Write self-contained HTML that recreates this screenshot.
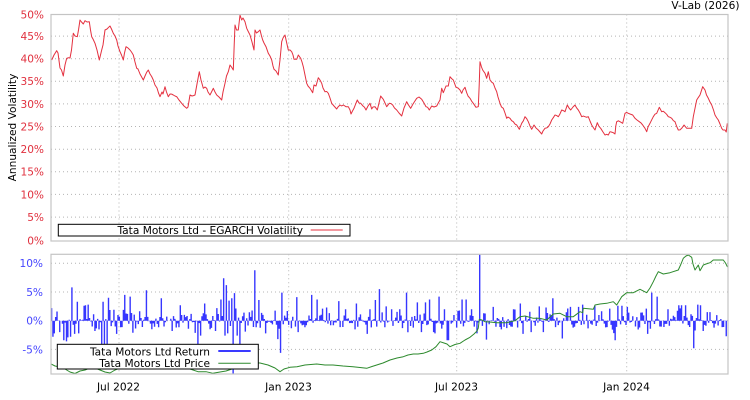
<!DOCTYPE html>
<html><head><meta charset="utf-8"><style>
html,body{margin:0;padding:0;background:#fff;}
svg{display:block;}
text{font-family:"DejaVu Sans","Liberation Sans",sans-serif;font-size:10.6px;}
</style></head><body>
<svg width="750" height="400" viewBox="0 0 750 400" xmlns="http://www.w3.org/2000/svg">
<defs>
<clipPath id="c1"><rect x="51" y="14.5" width="677" height="226.5"/></clipPath>
<clipPath id="c2"><rect x="51" y="254.3" width="677" height="119.7"/></clipPath>
</defs>
<rect x="0" y="0" width="750" height="400" fill="#fff"/>

<!-- grid -->
<g stroke="#b4b4b4" stroke-width="1" stroke-dasharray="1,3" fill="none">
<path d="M51 36.1H728M51 58.7H728M51 81.3H728M51 103.9H728M51 126.5H728M51 149.2H728M51 171.8H728M51 194.4H728M51 217.1H728"/>
<path d="M119 14.5V241M288.7 14.5V241M456.7 14.5V241M626.7 14.5V241"/>
<path d="M51 263.3H728M51 292H728M51 320.7H728M51 349.4H728"/>
<path d="M119 254.3V374M288.7 254.3V374M456.7 254.3V374M626.7 254.3V374"/>
</g>

<!-- volatility -->
<g clip-path="url(#c1)">
<polyline id="vol" fill="none" stroke="#e4303f" stroke-width="1" stroke-linejoin="round" points="51.7,60 54,55 56.7,50.7 58,53 60,68 61.5,70 63.3,76 65,65 66.7,58.3 70,58 71.5,50 73.3,33.3 75,36 77.3,36.7 78.5,30 80,20 81.5,22 83.3,24 85,20.7 87,22 89.3,21.7 90.5,30 91.7,36.7 93,39 95,43.3 97,50 99.3,60 100.5,55 101.7,50 103,45 105,30 107,29 110,26 111.5,29 113.3,33.3 115,36 116.7,40 118,46 120,51.7 121.5,55 123.3,60 124.5,53 126,46.7 128,48 130,50 131.5,52 133.3,55 135,62 136.7,68.3 138,69 140,74 143.3,80 145,76 148.3,70 150,74 153.3,80 155,85 157,88 158.5,93 160,96.7 162,92 163,94 165,86.7 166.5,92 168.3,96.7 170,94 173.3,95 175,96 176.7,96.7 179,100 181.7,103.3 184,106 186.7,108.3 188,107 190,95 192,96 195,95 197,84 199.3,71.7 201,80 203.3,88.3 205,87 206.7,88.3 208,92 210,95 212,91 213.3,88.3 215,92 216.7,95 219,97 221.7,100 223,92 225,83.3 226.5,76 228.3,71.7 230,65 231.5,67 233.3,70 234.2,45 235,25 236.5,30 238.3,30 240,15 241.7,20 243,18 245,21.7 246.7,28.3 248,31 250,35 252,42 254,50 255,30 256.5,33 258.3,31.7 260,30 261.5,36 262.7,40 264,43 266,46.7 268.3,53.3 270,56 271.7,60 273,66 274,69.3 276,71 278.3,75 279,68 280,60 281.7,41.7 283,38 285,35 286.5,42 288.3,50 290,50 291.7,51.7 293,55 294,59.3 296.7,59.3 298.3,55 300.7,58.3 302,62 303.3,66.7 305,75 306.7,83.3 308,86 310,88.3 312.7,92.7 314,85 316,86 318.3,77.7 320,80 321.7,83.3 323,88 325,91.7 328.3,93.3 330,98 331.7,103.3 334,106 336.7,109 338,107 340,105 343.3,105 346,106.7 348.3,106.7 350,110 351,114 352.5,111 354,108.3 357.3,100 359,103 360.7,103.3 363,106 366,110 368,106 370,103.3 371.7,109 373,107 375,106.7 377.3,110 379,103 380.7,96 383.3,99.3 385,103 386.7,106.7 389.3,103.3 392.7,105 394.5,108 396.7,110 399,113 401.7,116 404,108 406.7,101.7 408.5,105 410.7,108.3 413,104 416.7,98.3 419,97 421.7,99.3 424,103 426,106.7 429.3,110 431.7,106 434,107 436.7,106 440,100 441.7,88.3 443.3,92.7 446,86 448.3,86 450,76.7 453.3,80 456,87.3 458,88 460,90 461.7,93.3 463,90 465,87.3 466.7,92.7 468,96 470,98.3 473.3,103.3 476,107.3 478.3,106.7 479.2,85 480,61.7 481.5,67 482.7,70 485,73.3 486.7,78.3 488.3,71.7 490,80 491.5,82 493.3,83.3 495,88 496.7,91.7 498,97 500,103.3 501.5,107 503.3,108.3 505,113 506.7,118.3 508,117 510,118.3 513.3,121.7 516.7,125 519.3,129.3 521.7,123.3 525,116.7 528.3,121.7 530,126 531.7,129.3 534,125 536,128 538.3,130 540,132 541.7,134 543,131 545,128.3 548.3,126.7 550,124 551.7,120 555,115 558.3,116.7 561.7,110 565,111.7 567.3,105 569,108 570.7,110 573,107 575,105 578.3,110 580,113 581.7,116.7 585,116.7 588.3,116.7 590,121 591.7,125 595,130 597.3,122.7 600.7,128.3 603,132 605,135 608.3,135 610,131.7 613.3,132.7 615,134 615.8,126 616.7,121.7 620,121.7 622.7,123.3 625,113.3 628.3,113.3 630,114 632.7,115 635,118.3 637,120 639.3,121.7 642.7,125 645,128.3 646.7,131.7 648,127 650,123.3 653.3,116.7 656.7,113.3 659.3,107.3 661.7,111.7 665,112.7 668.3,116.7 671.7,118.3 675,121.7 676.5,126 678.3,130 681.7,128.3 684,125 686.7,128.3 689.3,128.3 691.7,128.3 693.3,116.7 695,108.3 696.7,100 700,95 702.7,86.7 705,90 706.5,95 708.3,98.3 710,102 711.7,105 713.5,110 715,115 718.3,120 720,124 721.7,128.3 723,130 725,130 726.2,132 727.3,123.3"/>
</g>

<!-- returns + price -->
<g clip-path="url(#c2)">
<path id="bars" fill="none" stroke="#3636ff" stroke-width="1.4" d=""/>
<polyline fill="none" stroke="#2d8a2d" stroke-width="1" stroke-linejoin="round" points="51,364 55,366 60,367 65,369 70,372 75,373.5 80,371 85,370 90,368 95,368 100,370 105,372 110,373 115,370 120,368 130,366 140,366 150,367 160,366 170,367 180,368 190,369 198,371.7 206,371.7 213,373.3 220,372 226,371 232,369 240,366 248,363 253,362.7 260,363 268,365 275,368 280,371.7 284,369 290,367.3 297,366.7 305,365 316.7,364 325,365 333,365 343,366 353,366.7 360,367.5 366.7,368.3 372,366.5 376.7,365 383,363 390,360 397,358 403.3,356.7 408,355 413.3,354 418,354 423.3,353.3 427,352 431.7,350 436,346.7 440,341.7 444,343 447,344 450,346.7 455,344.5 460,343.3 465,340 470,337.3 474,334 477,331 478.3,328 479.3,319.3 482,320 485,321.7 490,322 496.7,322.7 506.7,322.7 515,320.7 520,316.7 525,316 533.3,318.3 540,318.3 546.7,320 550,317 553.3,314 560,313.3 566.7,316.7 573.3,316.7 580,311.7 582.7,312.7 583.3,308.3 593.3,309.3 595,305 600,304 606.7,303.3 613.3,301.7 616.7,305 621.7,296.7 626.7,292.7 633.3,292.7 640,289.3 646.7,292.7 650,288 653.3,281.7 656,276 658.3,271.7 663.3,274 670,272.7 678.3,270 681,264 683.3,258.3 686,256 688.3,255 691.7,257.3 693,264 695,270 698.3,265 700,270.7 703.3,265 706,264 710,262.7 713.3,260 718,260 723.3,260 725.5,263 727.5,267"/>
</g>

<!-- borders -->
<rect x="51" y="14.5" width="677" height="226.5" fill="none" stroke="#c4c4c4" stroke-width="1.2"/>
<rect x="51" y="254.3" width="677" height="119.7" fill="none" stroke="#c4c4c4" stroke-width="1.2"/>

<!-- top legend -->
<rect x="58.3" y="224.3" width="291.7" height="11.7" fill="#fff" stroke="#000" stroke-width="1"/>
<text x="303" y="233.9" text-anchor="end" fill="#000">Tata Motors Ltd - EGARCH Volatility</text>
<line x1="310.7" y1="230" x2="342.7" y2="230" stroke="#e4303f" stroke-width="1"/>

<!-- bottom legend -->
<rect x="57.3" y="344.3" width="201" height="24.7" fill="#fff" stroke="#000" stroke-width="1"/>
<text x="210" y="355.6" text-anchor="end" fill="#000">Tata Motors Ltd Return</text>
<text x="210" y="367.2" text-anchor="end" fill="#000">Tata Motors Ltd Price</text>
<line x1="218.3" y1="351" x2="250.7" y2="351" stroke="#3a3aff" stroke-width="2"/>
<line x1="218.3" y1="363.3" x2="250.7" y2="363.3" stroke="#2d8a2d" stroke-width="1"/>

<!-- top y labels -->
<g fill="#e0303e" text-anchor="end">
<text x="44" y="18.5">50%</text>
<text x="44" y="40">45%</text>
<text x="44" y="62.6">40%</text>
<text x="44" y="85.2">35%</text>
<text x="44" y="107.8">30%</text>
<text x="44" y="130.4">25%</text>
<text x="44" y="153.1">20%</text>
<text x="44" y="175.7">15%</text>
<text x="44" y="198.3">10%</text>
<text x="44" y="221">5%</text>
<text x="44" y="244.6">0%</text>
</g>
<!-- bottom y labels -->
<g fill="#4545ff" text-anchor="end">
<text x="43" y="267.2">10%</text>
<text x="43" y="295.9">5%</text>
<text x="43" y="324.6">0%</text>
<text x="43" y="353.3">-5%</text>
</g>
<!-- x labels -->
<g fill="#000" text-anchor="middle">
<text x="118.5" y="390.6">Jul 2022</text>
<text x="288.5" y="390.6">Jan 2023</text>
<text x="456.5" y="390.6">Jul 2023</text>
<text x="626.5" y="390.6">Jan 2024</text>
</g>
<text x="13" y="127.5" fill="#000" text-anchor="middle" dominant-baseline="central" transform="rotate(-90 13 127.5)">Annualized Volatility</text>
<text x="739.5" y="9" fill="#000" text-anchor="end">V-Lab (2026)</text>
</svg>
<script>
(function(){
var s=987654321;function r(){s=(Math.imul(s,1664525)+1013904223)>>>0;return s/4294967296;}
function g(){var u=r()||1e-9,v=r();return Math.sqrt(-2*Math.log(u))*Math.cos(2*Math.PI*v);}
var N=500,x0=51.6,x1=727.6,dx=(x1-x0)/(N-1),vals=[];
for(var i=0;i<N;i++){var x=x0+i*dx;var sd=x<300?0.95:0.8;var v=g()*sd;if(v>2.2)v=2.2;if(v<-2.2)v=-2.2;vals.push(v);}
var sp=[[51,2.2],[56.7,1.6],[72.3,5.8],[76.7,3.3],[79,5.5],[84,2.6],[86,2.7],[88,2.8],[103.3,3.3],[108.3,4.0],[114,1.9],[124.3,4.5],[130,4.2],[146,5.3],[160.7,3.9],[172.7,3.6],[180,2.7],[205,3.0],[221,3.7],[224.3,7.4],[226.7,6.2],[229,3.5],[232,3.9],[235,4.8],[254.3,8.8],[258.3,3.6],[266,1.8],[282.3,4.9],[287,1.7],[296.7,4.1],[312.3,4.5],[316.7,3.7],[322,2.1],[327,2.3],[338.3,3.4],[345,2.0],[356.7,3.0],[370,2.0],[376,3.6],[380,5.5],[386,2.5],[392,2.0],[400,2.0],[406,4.9],[412.7,3.7],[416.7,3.2],[425,3.2],[430,3.7],[439.3,4.2],[445,2.0],[461.7,3.7],[465.7,3.7],[472,2.0],[479.3,12],[492.7,2.4],[513.3,2.0],[520,3.0],[539.3,2.5],[546.7,2.3],[552.7,3.9],[570,2.4],[578.3,2.4],[582.7,2.8],[595,2.6],[609.3,2.1],[618.3,2.6],[621.7,2.6],[626.7,2.4],[646.7,2.1],[652.3,4.9],[656.7,4.2],[668.3,2.0],[679.3,2.7],[681.7,2.7],[685,2.7],[697.7,2.8],[701,2.7],[706.7,1.5],[710,1.5],
[52.6,-2.8],[54.3,-2.2],[60,-2],[64.3,-3.4],[66,-3.6],[67.7,-2.9],[70,-2.8],[75,-2.3],[78.3,-2.2],[95,-1.8],[101.7,-5.1],[104.3,-4.6],[106.7,-4.3],[116.7,-2.3],[133.3,-2.1],[141.7,-1.1],[151.7,-1.5],[171.7,-1.8],[188.3,-1.4],[198.3,-4.5],[200,-2.6],[210,-1.5],[215,-1.8],[225.5,-2.6],[233.3,-10],[237.7,-2.6],[240,-4.5],[245,-1.9],[253,-1.1],[265,-2.2],[278,-3.2],[280,-5.6],[298,-2],[366.7,-2.3],[402.7,-1.3],[413.8,-1.2],[421.7,-2.0],[433.3,-2.0],[435,-2.2],[446.7,-3.4],[449,-3.4],[456.7,-1.2],[486,-3.3],[500,-1.1],[506.7,-1.3],[522.7,-2.3],[531.7,-2.0],[543.3,-2.0],[561.7,-3.1],[573.3,-1.2],[615,-3.4],[648,-2.3],[663.3,-1.1],[690.3,-1.1],[693.3,-4.8],[695,-1.7],[723.3,-1.1],[726,-2.7]];
for(var k=0;k<sp.length;k++){var idx=Math.round((sp[k][0]-x0)/dx);if(idx<0)idx=0;if(idx>=N)idx=N-1;vals[idx]=sp[k][1];}
var d='';for(var j=0;j<N;j++){var xx=(x0+j*dx).toFixed(2);var yy=(320.7-vals[j]*5.74).toFixed(2);d+='M'+xx+' 320.7V'+yy;}
document.getElementById('bars').setAttribute('d',d);
/* add small jitter to volatility line for daily texture */
var pl=document.getElementById('vol');var pts=pl.getAttribute('points').trim().split(/\s+/).map(function(p){var a=p.split(',');return [parseFloat(a[0]),parseFloat(a[1])];});
var out=[];for(var m=0;m<pts.length-1;m++){var a=pts[m],b=pts[m+1];out.push(a[0].toFixed(2)+','+a[1].toFixed(2));var seg=b[0]-a[0];var n=Math.floor(seg/1.4);for(var q=1;q<n;q++){var t=q/n;var yv=a[1]+(b[1]-a[1])*t+(r()-0.5)*2.2;out.push((a[0]+seg*t).toFixed(2)+','+yv.toFixed(2));}}
var L=pts[pts.length-1];out.push(L[0]+','+L[1]);pl.setAttribute('points',out.join(' '));
})();
</script>
</body></html>
